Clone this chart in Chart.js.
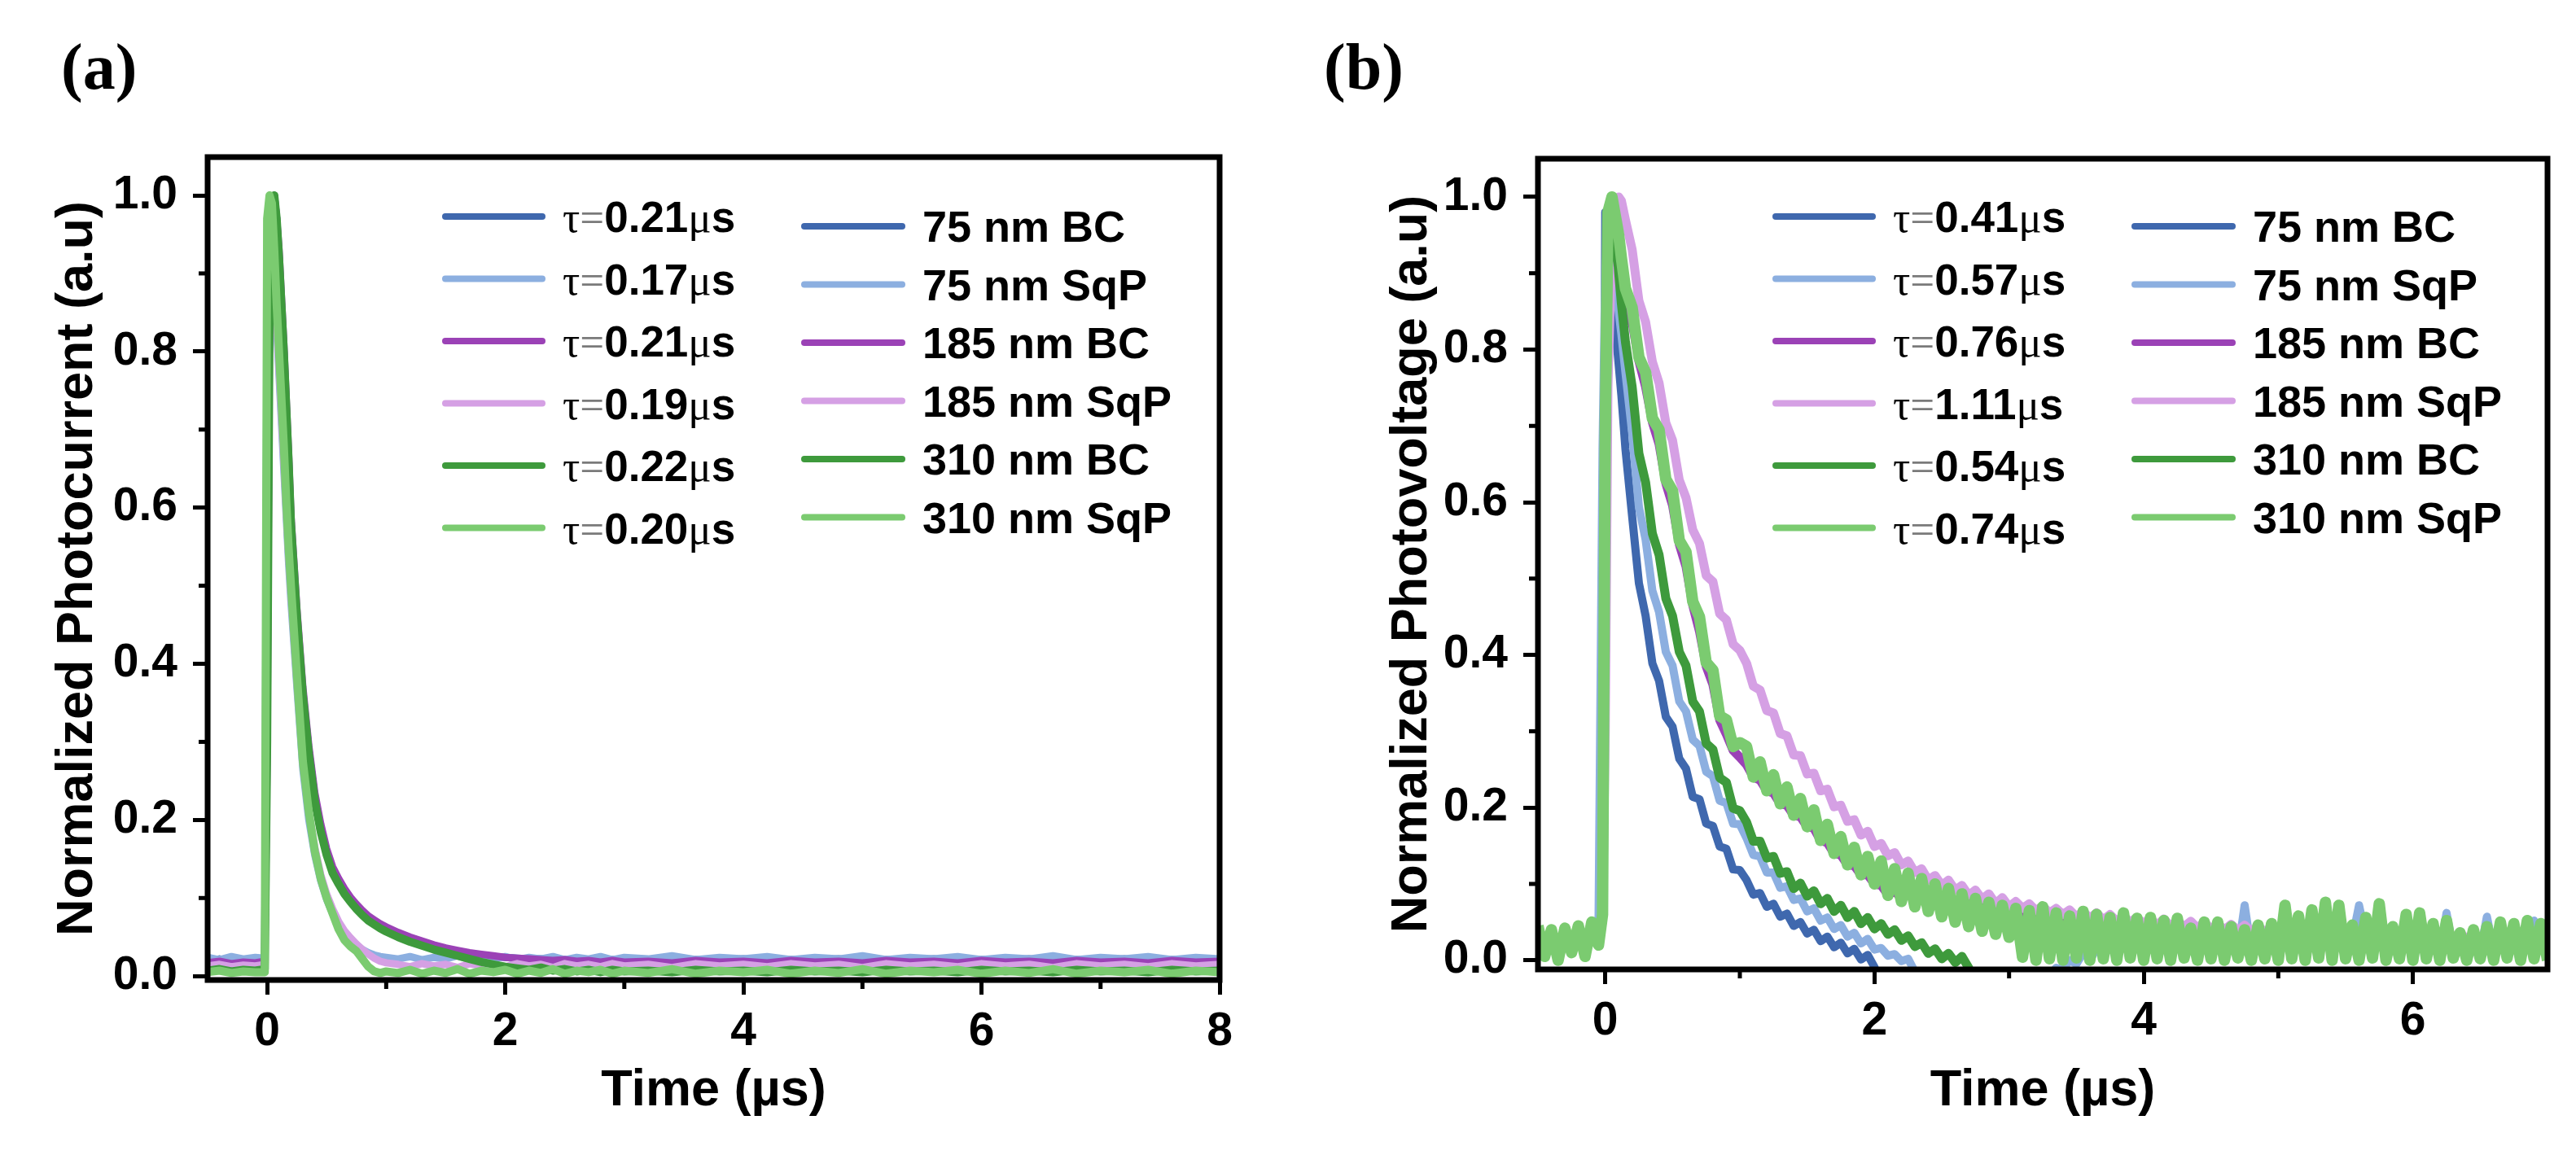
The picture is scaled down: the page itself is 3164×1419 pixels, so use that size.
<!DOCTYPE html>
<html><head><meta charset="utf-8">
<script src="https://cdn.jsdelivr.net/npm/chart.js@4.4.1/dist/chart.umd.min.js"></script>
<style>
html,body{margin:0;padding:0;background:#fff;}
body{width:3164px;height:1419px;position:relative;overflow:hidden;}
.panel{position:absolute;top:0;height:1419px;}
.tag{position:absolute;font:bold 80px "Liberation Serif",serif;line-height:80px;color:#000;white-space:nowrap;}
</style></head><body>
<div class="tag" style="left:75px;top:42px">(a)</div>
<div class="tag" style="left:1626px;top:42px">(b)</div>
<div class="panel" style="left:0;width:1600px"><canvas id="ca"></canvas></div>
<div class="panel" style="left:1600px;width:1564px"><canvas id="cb"></canvas></div>
<script>
// ---------------- data ----------------
const seriesNames = ['75 nm BC','75 nm SqP','185 nm BC','185 nm SqP','310 nm BC','310 nm SqP'];
const seriesColors = ['#3f68ae','#8cafe0','#9b42b6','#d5a0e4','#3e9a3c','#7bcb70'];
const tauA = ['0.21','0.17','0.21','0.19','0.22','0.20'];
const tauB = ['0.41','0.57','0.76','1.11','0.54','0.74'];
const yTickVals = [0,0.2,0.4,0.6,0.8,1.0];
const yMinorVals = [0.1,0.3,0.5,0.7,0.9];
const xTicksA = [0,2,4,6,8];
const xMinorA = [1,3,5,7];
const xTicksB = [0,2,4,6];
const xMinorB = [1,3,5];

// panel (a): time (µs) and normalized photocurrent
const timeA = [-0.5,-0.4,-0.3,-0.2,-0.1,-0.02,
0,0.02,0.04,0.06,0.08,0.1,0.12,0.14,0.16,0.18,0.2,
0.25,0.3,0.35,0.4,0.45,0.5,0.55,0.6,0.65,0.7,0.75,0.8,0.85,0.9,0.95,1.0,
1.1,1.2,1.3,1.4,1.5,1.6,1.7,1.8,1.9,2.0,2.1,2.2,2.3,2.4,2.5,2.6,2.7,2.8,2.9,3.0,
3.2,3.4,3.6,3.8,4.0,4.2,4.4,4.6,4.8,5.0,5.2,5.4,5.6,5.8,6.0,6.2,6.4,6.6,6.8,7.0,7.2,7.4,7.6,7.8,8.0];
const a75BC = [0.02,0.022,0.019,0.021,0.02,0.022,
0.35,0.88,0.99,1.0,0.97,0.92,0.86,0.8,0.73,0.66,0.58,
0.46,0.36,0.29,0.23,0.19,0.16,0.137,0.122,0.109,0.099,0.09,0.082,0.075,0.07,0.065,0.061,
0.054,0.048,0.043,0.039,0.035,0.032,0.029,0.027,0.025,0.024,0.023,0.022,0.022,0.021,0.021,0.02,0.021,0.02,0.021,0.02,
0.021,0.019,0.021,0.02,0.022,0.019,0.021,0.02,0.022,0.019,0.021,0.02,0.022,0.019,0.021,0.02,0.022,0.019,0.021,0.02,0.022,0.019,0.021,0.02,0.021];
const a75SqP = [0.024,0.021,0.025,0.022,0.024,0.023,
0.9,0.99,0.97,0.9,0.83,0.77,0.71,0.65,0.59,0.53,0.48,
0.37,0.265,0.2,0.155,0.122,0.098,0.08,0.065,0.054,0.046,0.04,0.034,0.03,0.027,0.025,0.024,
0.022,0.025,0.021,0.024,0.022,0.026,0.021,0.024,0.022,0.025,0.021,0.024,0.022,0.025,0.021,0.024,0.022,0.025,0.021,0.024,
0.022,0.026,0.021,0.024,0.022,0.025,0.021,0.024,0.022,0.026,0.021,0.024,0.022,0.025,0.021,0.024,0.022,0.026,0.021,0.024,0.022,0.025,0.021,0.024,0.022];
const a185BC = [0.017,0.019,0.016,0.018,0.017,0.019,
0.3,0.86,0.99,1.0,0.97,0.93,0.87,0.81,0.74,0.67,0.59,
0.47,0.37,0.295,0.235,0.195,0.163,0.14,0.125,0.112,0.101,0.092,0.084,0.077,0.072,0.067,0.063,
0.056,0.05,0.045,0.04,0.036,0.033,0.03,0.028,0.026,0.024,0.023,0.022,0.021,0.02,0.021,0.019,0.02,0.018,0.02,0.018,
0.019,0.017,0.02,0.018,0.019,0.017,0.02,0.018,0.019,0.017,0.02,0.018,0.019,0.017,0.02,0.018,0.019,0.017,0.02,0.018,0.019,0.017,0.02,0.018,0.019];
const a185SqP = [0.013,0.015,0.012,0.014,0.013,0.015,
0.85,0.98,0.97,0.9,0.84,0.78,0.72,0.66,0.6,0.54,0.49,
0.38,0.275,0.21,0.165,0.13,0.105,0.086,0.07,0.058,0.049,0.041,0.034,0.028,0.023,0.019,0.017,
0.015,0.012,0.016,0.013,0.015,0.011,0.016,0.013,0.015,0.012,0.016,0.013,0.015,0.011,0.016,0.013,0.015,0.012,0.016,0.013,
0.015,0.011,0.016,0.013,0.015,0.012,0.016,0.013,0.015,0.011,0.016,0.013,0.015,0.012,0.016,0.013,0.015,0.011,0.016,0.013,0.015,0.012,0.016,0.013,0.015];
const a310BC = [0.007,0.009,0.006,0.008,0.007,0.009,
0.3,0.85,0.99,1.0,0.97,0.92,0.86,0.8,0.73,0.66,0.58,
0.46,0.36,0.285,0.225,0.185,0.155,0.132,0.118,0.105,0.095,0.086,0.078,0.071,0.066,0.061,0.057,
0.05,0.044,0.039,0.034,0.03,0.026,0.022,0.018,0.015,0.012,0.01,0.008,0.011,0.007,0.009,0.006,0.008,0.005,0.008,0.006,
0.007,0.005,0.008,0.006,0.007,0.005,0.008,0.006,0.007,0.005,0.008,0.006,0.007,0.005,0.008,0.006,0.007,0.005,0.008,0.006,0.007,0.005,0.008,0.006,0.007];
const a310SqP = [0.005,0.007,0.004,0.006,0.005,0.005,
0.97,1.0,0.99,0.93,0.86,0.8,0.74,0.68,0.61,0.55,0.5,
0.385,0.275,0.21,0.16,0.125,0.1,0.08,0.06,0.046,0.038,0.032,0.022,0.012,0.006,0.004,0.006,
0.004,0.008,0.003,0.007,0.004,0.009,0.003,0.007,0.005,0.008,0.003,0.007,0.004,0.009,0.003,0.007,0.005,0.008,0.003,0.007,
0.004,0.009,0.003,0.007,0.005,0.008,0.003,0.007,0.004,0.009,0.003,0.007,0.005,0.008,0.003,0.007,0.004,0.009,0.003,0.007,0.005,0.008,0.003,0.007,0.005];

// panel (b): time (µs) and normalized photovoltage
const timeB = [-0.5,-0.45,-0.4,-0.35,-0.3,-0.25,-0.2,-0.15,-0.1,-0.05,-0.02,
0,0.02,0.05,0.08,0.1,0.12,0.15,
0.2,0.25,0.3,0.35,0.4,0.45,0.5,0.55,0.6,0.65,0.7,0.75,0.8,0.85,0.9,0.95,1.0,
1.05,1.1,1.15,1.2,1.25,1.3,1.35,1.4,1.45,1.5,1.55,1.6,1.65,1.7,1.75,1.8,1.85,1.9,1.95,2.0,
2.05,2.1,2.15,2.2,2.25,2.3,2.35,2.4,2.45,2.5,2.55,2.6,2.65,2.7,2.75,2.8,2.85,2.9,2.95,3.0,
3.05,3.1,3.15,3.2,3.25,3.3,3.35,3.4,3.45,3.5,3.55,3.6,3.65,3.7,3.75,3.8,3.85,3.9,3.95,4.0,
4.05,4.1,4.15,4.2,4.25,4.3,4.35,4.4,4.45,4.5,4.55,4.6,4.65,4.7,4.75,4.8,4.85,4.9,4.95,5.0,
5.05,5.1,5.15,5.2,5.25,5.3,5.35,5.4,5.45,5.5,5.55,5.6,5.65,5.7,5.75,5.8,5.85,5.9,5.95,6.0,
6.05,6.1,6.15,6.2,6.25,6.3,6.35,6.4,6.45,6.5,6.55,6.6,6.65,6.7,6.75,6.8,6.85,6.9,6.95,7.0];
const b75BC = [0.03,0.022,0.028,0.02,0.031,0.024,0.03,0.026,0.033,0.04,0.1,
0.98,0.93,0.86,0.82,0.78,0.74,0.67,
0.581,0.494,0.451,0.389,0.366,0.319,0.306,0.264,0.251,0.214,0.211,0.179,0.176,0.149,0.146,0.119,0.118,
0.105,0.086,0.088,0.07,0.074,0.057,0.061,0.045,0.05,0.035,0.04,0.025,0.031,0.017,0.023,0.009,0.015,0.001,0.007,-0.009,
-0.035];
const b75SqP = [0.025,0.03,0.02,0.027,0.022,0.03,0.024,0.028,0.03,0.045,0.67,
0.9,0.95,0.93,0.88,0.85,0.82,0.77,
0.691,0.594,0.551,0.484,0.456,0.404,0.386,0.339,0.326,0.289,0.281,0.247,0.241,0.209,0.206,0.179,0.178,
0.16,0.138,0.136,0.115,0.115,0.095,0.097,0.079,0.081,0.064,0.068,0.052,0.056,0.041,0.046,0.031,0.036,0.022,0.028,0.014,
0.016,0.006,0.008,-0.001,0.002,-0.015,-0.025,-0.03,-0.025,-0.03,-0.025,-0.03,-0.025,-0.03,-0.025,-0.03,-0.025,-0.03,-0.025,-0.03,
-0.025,-0.03,-0.02,-0.025,-0.015,-0.02,-0.01,-0.012,0.0,-0.005,0.01,0.0,0.015,0.005,0.02,0.005,0.025,0.008,0.03,0.01,
0.028,0.01,0.03,0.008,0.025,0.012,0.032,0.01,0.035,0.015,0.03,0.012,0.03,0.01,0.072,0.012,0.032,0.008,0.03,0.01,
0.03,0.012,0.028,0.01,0.067,0.012,0.03,0.008,0.032,0.01,0.028,0.072,0.03,0.012,0.032,0.01,0.028,0.012,0.03,0.01,
0.03,0.012,0.028,0.01,0.062,0.012,0.03,0.008,0.032,0.01,0.057,0.012,0.03,0.01,0.032,0.012,0.03,0.052,0.032,0.035];
const b185BC = [0.02,0.03,0.025,0.02,0.03,0.026,0.022,0.03,0.028,0.04,0.06,
0.5,0.92,0.97,0.95,0.92,0.89,0.84,
0.836,0.785,0.751,0.705,0.676,0.625,0.596,0.545,0.516,0.465,0.431,0.385,0.361,0.315,0.296,0.275,0.266,
0.256,0.24,0.236,0.222,0.219,0.205,0.203,0.19,0.188,0.175,0.173,0.157,0.154,0.14,0.138,0.125,0.124,0.112,0.112,0.1,
0.098,0.086,0.09,0.082,0.088,0.079,0.085,0.078,0.083,0.077,0.081,0.076,0.079,0.074,0.077,0.072,0.075,0.07,0.073,0.068,
0.066,0.062,0.064,0.058,0.06,0.055,0.057,0.052,0.055,0.05,0.053,0.048,0.051,0.046,0.049,0.045,0.047,0.043,0.046,0.042,
0.044,0.04,0.043,0.039,0.042,0.038,0.041,0.037,0.04,0.036,0.039,0.035,0.038,0.034,0.037,0.033,0.036,0.033,0.035,0.032,
0.034,0.031,0.034,0.03,0.033,0.03,0.033,0.029,0.032,0.029,0.032,0.028,0.031,0.028,0.031,0.027,0.03,0.027,0.03,0.026,
0.03,0.026,0.029,0.026,0.029,0.025,0.029,0.025,0.028,0.025,0.028,0.024,0.028,0.024,0.027,0.024,0.027,0.024,0.027,0.024];
const b185SqP = [0.02,0.025,0.02,0.028,0.022,0.025,0.02,0.026,0.03,0.035,0.05,
0.3,0.75,0.95,0.99,1.0,0.995,0.97,
0.931,0.864,0.836,0.784,0.756,0.704,0.681,0.629,0.606,0.564,0.546,0.504,0.496,0.454,0.446,0.414,0.406,
0.389,0.359,0.354,0.327,0.324,0.297,0.294,0.269,0.268,0.244,0.245,0.222,0.224,0.201,0.203,0.182,0.184,0.164,0.169,0.149,
0.153,0.137,0.141,0.125,0.13,0.115,0.12,0.105,0.111,0.098,0.105,0.092,0.098,0.085,0.092,0.08,0.087,0.074,0.082,0.07,
0.077,0.068,0.074,0.065,0.071,0.062,0.068,0.06,0.066,0.057,0.064,0.055,0.062,0.053,0.06,0.051,0.058,0.05,0.056,0.048,
0.055,0.046,0.054,0.045,0.052,0.044,0.051,0.042,0.05,0.041,0.048,0.04,0.047,0.039,0.046,0.038,0.045,0.037,0.044,0.036,
0.043,0.035,0.043,0.034,0.042,0.034,0.041,0.033,0.041,0.032,0.04,0.032,0.039,0.031,0.039,0.031,0.038,0.03,0.038,0.03,
0.037,0.03,0.037,0.029,0.036,0.029,0.036,0.028,0.035,0.028,0.035,0.028,0.034,0.027,0.034,0.027,0.034,0.027,0.033,0.027];
const b310BC = [0.025,0.02,0.03,0.022,0.028,0.02,0.03,0.025,0.03,0.04,0.06,
0.6,0.9,0.97,0.95,0.9,0.86,0.81,
0.751,0.664,0.626,0.559,0.531,0.474,0.451,0.404,0.386,0.339,0.326,0.284,0.276,0.239,0.233,0.199,0.196,
0.181,0.156,0.156,0.134,0.136,0.114,0.116,0.094,0.101,0.084,0.091,0.074,0.081,0.064,0.072,0.056,0.064,0.048,0.056,0.041,
0.048,0.034,0.04,0.026,0.032,0.018,0.023,0.009,0.015,0.002,0.009,-0.003,0.005,-0.01,-0.035];
const b310SqP = [0.045,0.005,0.04,0.0,0.042,0.01,0.045,0.005,0.05,0.02,0.06,
0.7,0.98,1.0,0.97,0.95,0.92,0.88,
0.855,0.79,0.77,0.71,0.695,0.63,0.615,0.55,0.535,0.47,0.45,0.39,0.38,0.32,0.315,0.28,0.285,
0.28,0.24,0.26,0.222,0.243,0.205,0.227,0.19,0.212,0.175,0.197,0.157,0.178,0.14,0.162,0.125,0.148,0.112,0.136,0.1,
0.13,0.085,0.12,0.077,0.114,0.07,0.107,0.064,0.1,0.057,0.094,0.05,0.087,0.044,0.081,0.038,0.076,0.034,0.072,0.03,
0.068,0.004,0.065,0.0,0.07,0.002,0.062,0.0,0.058,0.003,0.064,0.0,0.06,0.002,0.056,0.0,0.062,0.003,0.055,0.0,
0.056,0.002,0.052,0.0,0.055,0.003,0.042,0.0,0.05,0.002,0.05,0.0,0.044,0.003,0.04,0.0,0.046,0.002,0.048,0.0,
0.072,0.002,0.058,0.0,0.066,0.003,0.076,0.0,0.072,0.002,0.046,0.0,0.056,0.003,0.074,0.0,0.044,0.002,0.06,0.0,
0.062,0.002,0.048,0.0,0.052,0.003,0.036,0.0,0.04,0.002,0.044,0.0,0.05,0.003,0.048,0.0,0.052,0.002,0.048,0.0];

// ---------------- rendering ----------------
const SANS = '"Liberation Sans", Arial, sans-serif';
const SERIF = '"Liberation Serif", "Times New Roman", serif';
Chart.defaults.font.family = SANS;
Chart.defaults.color = '#000';

const decoPlugin = {
  id: 'deco',
  afterDatasetsDraw(chart, args, o) {
    const ctx = chart.ctx;
    const {left, right, top, bottom} = chart.chartArea;
    const xs = chart.scales.x, ys = chart.scales.y;
    ctx.save();
    ctx.strokeStyle = '#000';
    ctx.lineWidth = 7;
    ctx.strokeRect(left, top, right - left, bottom - top);
    ctx.lineWidth = 5;
    o.xMinor.forEach(v => {
      const px = xs.getPixelForValue(v);
      ctx.beginPath(); ctx.moveTo(px, bottom); ctx.lineTo(px, bottom + 11); ctx.stroke();
    });
    o.yMinor.forEach(v => {
      const py = ys.getPixelForValue(v);
      ctx.beginPath(); ctx.moveTo(left, py); ctx.lineTo(left - 11, py); ctx.stroke();
    });
    // legend (two columns)
    ctx.lineCap = 'round';
    ctx.textAlign = 'left';
    ctx.textBaseline = 'alphabetic';
    chart.data.datasets.forEach((ds, i) => {
      const y1 = o.row1 + o.step1 * i;
      const y2 = o.row2 + o.step2 * i;
      ctx.strokeStyle = ds.borderColor;
      ctx.lineWidth = 8;
      ctx.beginPath(); ctx.moveTo(left + o.c1a, y1); ctx.lineTo(left + o.c1b, y1); ctx.stroke();
      ctx.beginPath(); ctx.moveTo(left + o.c2a, y2); ctx.lineTo(left + o.c2b, y2); ctx.stroke();
      const fs = o.fs1;
      let x = left + o.c1t;
      const b1 = y1 + fs * 0.36;
      const parts = [
        ['τ', fs + 'px ' + SERIF, '#000'],
        ['=', fs + 'px ' + SERIF, '#7a7a7a'],
        [o.tau[i], 'bold ' + fs + 'px ' + SANS, '#000'],
        ['μ', fs + 'px ' + SERIF, '#000'],
        ['s', 'bold ' + fs + 'px ' + SANS, '#000']
      ];
      parts.forEach(p => {
        ctx.font = p[1]; ctx.fillStyle = p[2];
        ctx.fillText(p[0], x, b1);
        x += ctx.measureText(p[0]).width;
      });
      ctx.font = 'bold ' + o.fs2 + 'px ' + SANS;
      ctx.fillStyle = '#000';
      ctx.fillText(ds.label, left + o.c2t, y2 + o.fs2 * 0.36);
    });
    ctx.restore();
  }
};

function buildChart(id, time, series, P) {
  const datasets = series.map((vals, i) => ({
    label: seriesNames[i],
    data: vals.map((v, j) => ({x: time[j], y: v})),
    borderColor: seriesColors[i],
    backgroundColor: seriesColors[i],
    borderWidth: P.lw[i],
    pointRadius: 0,
    tension: 0,
    fill: false,
    borderJoinStyle: 'round',
    order: P.order[i]
  }));
  return new Chart(document.getElementById(id), {
    type: 'line',
    data: {datasets},
    plugins: [decoPlugin],
    options: {
      responsive: true,
      maintainAspectRatio: false,
      devicePixelRatio: 1,
      animation: false,
      events: [],
      layout: {padding: {left: 0, top: P.top, right: P.W - P.right, bottom: 0}},
      plugins: {
        legend: {display: false},
        tooltip: {enabled: false},
        deco: {xMinor: P.xMinor, yMinor: yMinorVals, tau: P.tau, fs1: 53, fs2: 54,
               row1: 266, step1: 76.5, row2: 278, step2: 71.5,
               c1a: 292, c1b: 411, c1t: 436, c2a: 733, c2b: 853, c2t: 878}
      },
      scales: {
        x: {
          type: 'linear', min: P.xmin, max: P.xmax,
          afterBuildTicks: s => { s.ticks = P.xTicks.map(v => ({value: v})); },
          afterFit: s => { s.height = 1419 - P.bottom; },
          ticks: {font: {size: 57, weight: 'bold'}, color: '#000', padding: 12, maxRotation: 0, autoSkip: false,
                  callback: v => String(v)},
          grid: {drawOnChartArea: false, drawTicks: true, tickLength: 18, tickWidth: 5, tickColor: '#000', color: '#000', lineWidth: 5},
          border: {display: false},
          title: {display: true, text: 'Time (µs)', color: '#000', font: {size: 63, weight: 'bold'}, padding: {top: 0, bottom: 41}}
        },
        y: {
          type: 'linear', min: P.ymin, max: P.ymax,
          afterBuildTicks: s => { s.ticks = yTickVals.map(v => ({value: v})); },
          afterFit: s => { s.width = P.left; },
          ticks: {font: {size: 57, weight: 'bold'}, color: '#000', padding: 19, autoSkip: false,
                  callback: v => Number(v).toFixed(1)},
          grid: {drawOnChartArea: false, drawTicks: true, tickLength: 18, tickWidth: 5, tickColor: '#000', color: '#000', lineWidth: 5},
          border: {display: false},
          title: {display: true, text: P.ytitle, color: '#000', font: {size: 63, weight: 'bold'}, padding: {top: P.ytp, bottom: 0}}
        }
      }
    }
  });
}

buildChart('ca', timeA, [a75BC, a75SqP, a185BC, a185SqP, a310BC, a310SqP], {
  W: 1600, left: 255, right: 1498, top: 193, bottom: 1204,
  xmin: -0.5, xmax: 8, ymin: -0.005, ymax: 1.049,
  xTicks: xTicksA, xMinor: xMinorA, tau: tauA, lw: [9, 9, 9, 9, 10, 10],
  order: [5, 4, 3, 2, 1, 0],
  ytitle: 'Normalized Photocurrent (a.u)', ytp: 58
});
buildChart('cb', timeB, [b75BC, b75SqP, b185BC, b185SqP, b310BC, b310SqP], {
  W: 1564, left: 289, right: 1529, top: 195, bottom: 1191,
  xmin: -0.5, xmax: 7, ymin: -0.012, ymax: 1.05,
  xTicks: xTicksB, xMinor: xMinorB, tau: tauB, lw: [10, 10, 11, 11, 11, 14],
  order: [5, 3, 4, 2, 1, 0],
  ytitle: 'Normalized Photovoltage (a.u)', ytp: 97
});
</script>
</body></html>
